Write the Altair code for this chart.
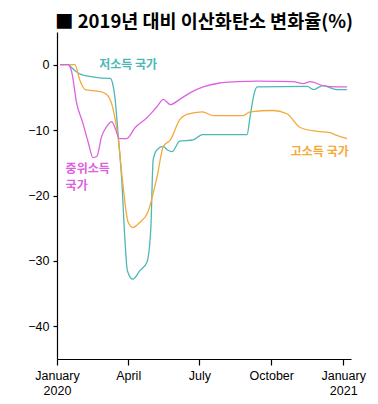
import altair as alt
import pandas as pd

# Low-income (teal)
low_dates = ["2020-01-05","2020-01-15","2020-01-21","2020-01-30","2020-02-12","2020-02-25","2020-03-09",
             "2020-03-12","2020-03-15","2020-03-19","2020-03-24","2020-03-28","2020-03-31","2020-04-07",
             "2020-04-16","2020-04-25","2020-04-30","2020-05-03","2020-05-08","2020-05-16","2020-05-21",
             "2020-05-27","2020-06-06","2020-06-23","2020-07-05","2020-08-31","2020-09-04","2020-09-09",
             "2020-09-13","2020-11-16","2020-11-24","2020-12-06","2020-12-24","2021-01-06"]
low_vals = [0,0,-0.6,-1.4,-1.8,-2.0,-2.1,-2.8,-4.9,-10.4,-18,-27,-31.5,-32.8,-31.5,-30.2,-25,-14.5,-13,
            -12.5,-13.0,-13.3,-11.7,-11.5,-10.7,-10.7,-7.9,-4.5,-3.4,-3.3,-3.8,-3.2,-3.8,-3.8]

# High-income (orange)
high_dates = ["2020-01-05","2020-01-24","2020-01-30","2020-02-06","2020-02-25","2020-03-05","2020-03-13",
              "2020-03-19","2020-03-25","2020-04-01","2020-04-07","2020-04-16","2020-04-26","2020-05-08",
              "2020-05-16","2020-05-25","2020-06-06","2020-06-15","2020-07-05","2020-07-19","2020-08-26",
              "2020-09-04","2020-10-03","2020-10-21","2020-11-07","2020-11-29","2020-12-15","2020-12-24",
              "2021-01-06"]
high_vals = [0,0,-2.3,-3.8,-4.1,-4.6,-6.9,-11,-18,-24.1,-24.9,-24.1,-22.6,-17.1,-12.5,-11.5,-8.4,-7.6,
             -7.2,-7.8,-7.8,-7.2,-7.0,-7.5,-9.6,-10.2,-10.4,-10.8,-11.3]

# Middle-income (pink)
mid_dates = ["2020-01-05","2020-01-15","2020-01-20","2020-01-26","2020-02-03","2020-02-10","2020-02-16",
             "2020-02-21","2020-02-27","2020-03-05","2020-03-11","2020-03-15","2020-03-21","2020-03-30",
             "2020-04-10","2020-04-25","2020-05-08","2020-05-16","2020-05-25","2020-06-06","2020-06-19",
             "2020-07-06","2020-07-27","2020-08-18","2020-09-13","2020-10-29","2020-11-11","2020-11-20",
             "2020-12-06","2020-12-24","2021-01-06"]
mid_vals = [0,0,-1.2,-5.8,-8.9,-11.9,-14.2,-14,-11,-9.4,-8.7,-9.6,-11.3,-11.3,-9.6,-8.1,-6.4,-5.3,-6.1,
            -5.3,-4.3,-3.4,-2.8,-2.6,-2.5,-2.6,-2.9,-2.6,-3.2,-3.4,-3.4]

series_names = ["low", "high", "mid"]
series_colors = ["#4cb8b6", "#f5a93a", "#dd62e0"]

label_series = ["low", "mid", "mid", "high"]
label_texts = ["저소득 국가", "중위소득", "국가", "고소득 국가"]
label_dates = ["2020-04-01", "2020-01-12", "2020-01-12", "2020-10-26"]
label_vals = [-0.1, -16.0, -18.6, -13.4]
label_aligns = ["center", "left", "left", "left"]

rows = []
for name, ds, vs in [("low", low_dates, low_vals), ("high", high_dates, high_vals), ("mid", mid_dates, mid_vals)]:
    for d, v in zip(ds, vs):
        rows.append({"series": name, "date": d, "value": v})
df = pd.DataFrame(rows)

x_scale = alt.Scale(type="utc", domain=[alt.DateTime(year=2020, month=1, date=1, utc=True),
                                        alt.DateTime(year=2021, month=1, date=11, utc=True)], nice=False)
y_scale = alt.Scale(domain=[-45, 5], nice=False, zero=False)
color_scale = alt.Scale(domain=series_names, range=series_colors)

tick_vals = [alt.DateTime(year=2020, month=1, date=1, utc=True),
             alt.DateTime(year=2020, month=4, date=1, utc=True),
             alt.DateTime(year=2020, month=7, date=1, utc=True),
             alt.DateTime(year=2020, month=10, date=1, utc=True),
             alt.DateTime(year=2021, month=1, date=1, utc=True)]

lines = alt.Chart(df).mark_line(strokeWidth=1.3, interpolate="monotone").encode(
    x=alt.X("date:T", scale=x_scale, title=None,
            axis=alt.Axis(values=tick_vals, grid=False, domainColor="black", tickColor="black",
                          tickSize=6, labelFontSize=12.5, labelColor="black", labelFont="Liberation Sans",
                          labelPadding=4, labelLineHeight=15, labelFlush=False,
                          labelExpr="utcmonth(datum.value)==0 ? [utcFormat(datum.value,'%B'), utcFormat(datum.value,'%Y')] : utcFormat(datum.value,'%B')")),
    y=alt.Y("value:Q", scale=y_scale, title=None,
            axis=alt.Axis(values=[0, -10, -20, -30, -40], grid=False, domainColor="black", tickColor="black",
                          tickSize=4, labelFontSize=12.5, labelColor="black", labelFont="Liberation Sans",
                          labelPadding=4)),
    color=alt.Color("series:N", scale=color_scale, legend=None),
    detail="series:N",
)

lab_df = pd.DataFrame({"text": label_texts, "date": label_dates, "value": label_vals,
                       "series": label_series})

def label_layer(i):
    sub = lab_df.iloc[[i]]
    return alt.Chart(sub).mark_text(fontSize=12, fontWeight="bold", font="Noto Sans CJK KR",
                                     align=label_aligns[i], baseline="middle").encode(
        x=alt.X("date:T", scale=x_scale),
        y=alt.Y("value:Q", scale=y_scale),
        text="text",
        color=alt.Color("series:N", scale=color_scale, legend=None),
    )

chart = alt.layer(lines, *[label_layer(i) for i in range(len(label_texts))]).properties(
    width=294, height=327,
    autosize=alt.AutoSizeParams(type="none"),
    padding={"left": 49, "top": 24, "right": 19, "bottom": 37},
    title=alt.TitleParams("■ 2019년 대비 이산화탄소 변화율(%)", anchor="start", frame="group", fontSize=18.5,
                          fontWeight="bold", font="Noto Sans CJK KR", color="black", offset=1, dx=-2),
).configure_view(stroke=None).configure_axis(domainWidth=1.2, tickWidth=1.2)

chart.save("out.html", embed_options={"renderer": "svg", "actions": False})
